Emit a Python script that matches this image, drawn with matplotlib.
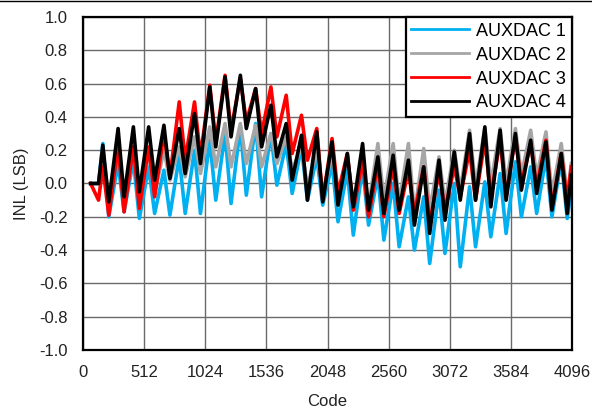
import numpy as np
import matplotlib
matplotlib.use("Agg")
import matplotlib.pyplot as plt
from matplotlib.lines import Line2D

plt.rcParams['font.family'] = ['Liberation Sans', 'DejaVu Sans']

# ---- data (per 128-code cycle: peak and following trough) ----
series_names = ["AUXDAC 1", "AUXDAC 2", "AUXDAC 3", "AUXDAC 4"]
series_colors = ["#00B0F0", "#A6A6A6", "#FF0000", "#000000"]

peak_codes = np.arange(166, 4096, 128)          # 31 peaks
trough_codes = peak_codes + 50                  # trough after each peak
start_codes = [64, 130]
end_code = 4090

aux1_peaks = [0.24, 0.12, 0.14, 0.10, 0.08, 0.16, 0.20, 0.26, 0.30, 0.34, 0.36, 0.30, 0.24, 0.22, 0.16, 0.12,
              0.08, 0.10, 0.05, 0.00, -0.08, -0.08, -0.04, 0.00, -0.02, 0.01, 0.06, 0.13, 0.10, 0.16, 0.14]
aux1_troughs = [-0.20, -0.17, -0.21, -0.18, -0.19, -0.18, -0.18, -0.10, -0.12, -0.07, -0.08, -0.01, -0.06, -0.10, -0.13, -0.23,
                -0.31, -0.25, -0.34, -0.38, -0.40, -0.48, -0.42, -0.50, -0.38, -0.32, -0.30, -0.20, -0.18, -0.20, -0.21]
aux1_ends = [0.0, 0.0, -0.05]

aux2_peaks = [0.20, 0.22, 0.20, 0.18, 0.20, 0.22, 0.28, 0.34, 0.36, 0.36, 0.35, 0.30, 0.28, 0.22, 0.20, 0.18,
              0.16, 0.15, 0.24, 0.24, 0.24, 0.21, 0.16, 0.20, 0.32, 0.33, 0.33, 0.33, 0.32, 0.31, 0.24]
aux2_troughs = [-0.10, -0.08, -0.08, -0.06, 0.02, 0.04, 0.06, 0.10, 0.10, 0.12, 0.10, 0.12, 0.08, -0.02, -0.06, -0.08,
                -0.12, -0.14, -0.10, -0.12, -0.18, -0.16, -0.12, -0.04, -0.02, 0.00, 0.00, 0.05, 0.04, -0.06, -0.08]
aux2_ends = [0.0, 0.0, 0.12]

aux3_peaks = [0.10, 0.23, 0.22, 0.22, 0.30, 0.49, 0.49, 0.59, 0.65, 0.63, 0.57, 0.58, 0.53, 0.41, 0.33, 0.27,
              0.18, 0.14, 0.12, 0.10, 0.08, 0.10, 0.07, 0.10, 0.20, 0.26, 0.26, 0.28, 0.24, 0.26, 0.18]
aux3_troughs = [-0.19, -0.17, -0.15, -0.08, 0.04, 0.14, 0.16, 0.25, 0.32, 0.37, 0.30, 0.28, 0.18, 0.14, -0.10, -0.06,
                -0.16, -0.20, -0.20, -0.18, -0.18, -0.24, -0.16, -0.08, -0.10, -0.08, -0.08, 0.00, -0.02, -0.14, -0.10]
aux3_ends = [0.0, -0.10, 0.10]

aux4_peaks = [0.23, 0.33, 0.34, 0.34, 0.35, 0.33, 0.42, 0.58, 0.64, 0.65, 0.57, 0.47, 0.36, 0.29, 0.31, 0.25,
              0.18, 0.24, 0.16, 0.17, 0.14, 0.10, 0.14, 0.19, 0.30, 0.34, 0.32, 0.30, 0.26, 0.25, 0.18]
aux4_troughs = [-0.11, -0.08, -0.05, 0.02, 0.03, 0.06, 0.12, 0.22, 0.28, 0.33, 0.22, 0.16, 0.02, -0.10, -0.11, -0.13,
                -0.14, -0.16, -0.18, -0.16, -0.25, -0.30, -0.22, -0.10, -0.10, -0.14, -0.10, -0.04, -0.06, -0.16, -0.18]
aux4_ends = [0.0, 0.0, 0.05]

all_peaks = [aux1_peaks, aux2_peaks, aux3_peaks, aux4_peaks]
all_troughs = [aux1_troughs, aux2_troughs, aux3_troughs, aux4_troughs]
all_ends = [aux1_ends, aux2_ends, aux3_ends, aux4_ends]

x_ticks = [0, 512, 1024, 1536, 2048, 2560, 3072, 3584, 4096]
y_ticks = [-1.0, -0.8, -0.6, -0.4, -0.2, 0.0, 0.2, 0.4, 0.6, 0.8, 1.0]
y_ticklabels = ["-1.0", "-0.8", "-0.6", "-0.4", "-0.2", "0.0", "0.2", "0.4", "0.6", "0.8", "1.0"]

# ---- figure ----
fig = plt.figure(figsize=(5.92, 4.08), dpi=100)
ax = fig.add_axes([83 / 592, 1 - 350 / 408, (572 - 83) / 592, (350 - 17) / 408])

for name, color, pk, tr, ends in zip(series_names, series_colors, all_peaks, all_troughs, all_ends):
    xs = list(start_codes)
    ys = [ends[0], ends[1]]
    for pc, tc, pv, tv in zip(peak_codes, trough_codes, pk, tr):
        xs += [pc, tc]
        ys += [pv, tv]
    xs.append(end_code)
    ys.append(ends[2])
    ax.plot(xs, ys, color=color, lw=2.6, label=name, solid_joinstyle='round')

ax.set_xlim(0, 4096)
ax.set_ylim(-1.0, 1.0)
ax.set_xticks(x_ticks)
ax.set_yticks(y_ticks)
ax.set_yticklabels(y_ticklabels)
ax.tick_params(axis='both', length=0, labelsize=12, pad=11, colors='#222222')
ax.grid(True, color='#6a6a6a', lw=1.0)
ax.set_axisbelow(True)
for s in ax.spines.values():
    s.set_color('black')
    s.set_linewidth(1.6)

ax.set_xlabel("Code", fontsize=12, color='#222222', labelpad=10)
ax.set_ylabel("INL (LSB)", fontsize=12, color='#222222', labelpad=7)

leg = ax.legend(loc='upper right', borderaxespad=0, fancybox=False, edgecolor='black',
                framealpha=1, fontsize=13, handlelength=3.2, handletextpad=0.4,
                labelspacing=0.38, borderpad=0.32)
leg.get_frame().set_linewidth(1.6)
for h in leg.get_lines():
    h.set_linewidth(2.0)

fig.add_artist(Line2D([0, 1], [1 - 0.8 / 408, 1 - 0.8 / 408], transform=fig.transFigure, color='black', lw=1.0))

fig.savefig("out.png", dpi=100)
